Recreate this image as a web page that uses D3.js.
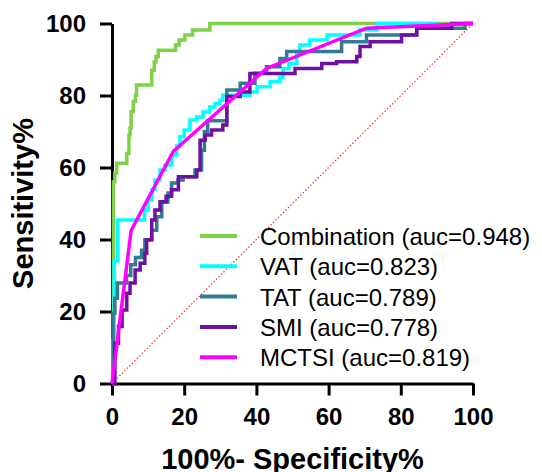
<!DOCTYPE html>
<html>
<head>
<meta charset="utf-8">
<script src="https://cdn.jsdelivr.net/npm/d3@7"></script>
<style>
  body { margin: 0; background: #fff; }
  svg { display: block; font-family: "Liberation Sans", Arial, sans-serif; }
</style>
</head>
<body>
<div id="chart"></div>
<script>
// ROC curves, values (x = 100%-specificity, y = sensitivity)
const seriesNames = ["Combination", "VAT", "TAT", "SMI", "MCTSI"];
const aucValues = ["0.948", "0.823", "0.789", "0.778", "0.819"];
const seriesColors = ["#80d14a", "#00ffff", "#327b93", "#6e11a0", "#ff00ff"];

const combFpr = [0, 0.4, 0.4, 0.8, 0.8, 1.3, 1.3, 4.1, 4.1, 4.7, 4.7, 5, 5, 5.3, 5.3, 5.9, 5.9, 6.5, 6.5, 6.8, 6.8, 11, 11, 11.7, 11.7, 12.2, 12.2, 12.8, 12.8, 17.6, 17.6, 18.6, 18.6, 20.2, 20.2, 22.3, 22.3, 27.1, 27.1, 100];
const combTpr = [0, 0, 56, 56, 58.5, 58.5, 61.2, 61.2, 63.9, 63.9, 69, 69, 71, 71, 75.5, 75.5, 78.3, 78.3, 80.1, 80.1, 82.9, 82.9, 87, 87, 89.4, 89.4, 90.8, 90.8, 92.6, 92.6, 94, 94, 95.4, 95.4, 96.8, 96.8, 98.2, 98.2, 100, 100];

const vatFpr = [0, 0.2, 0.2, 0.6, 0.6, 1.6, 1.6, 9, 9, 10, 10, 11.1, 11.1, 11.9, 11.9, 13.3, 13.3, 14.7, 14.7, 16.6, 16.6, 17.9, 17.9, 18.8, 18.8, 20, 20, 21.6, 21.6, 23.5, 23.5, 25.2, 25.2, 27.1, 27.1, 28.5, 28.5, 29.9, 29.9, 30.7, 30.7, 38.2, 38.2, 40.2, 40.2, 43.8, 43.8, 46.5, 46.5, 47.4, 47.4, 49, 49, 51.2, 51.2, 52, 52, 54.8, 54.8, 59.6, 59.6, 68.7, 68.7, 73.4, 73.4, 90, 90, 100];
const vatTpr = [0, 0, 12, 12, 34, 34, 45.4, 45.4, 48.2, 48.2, 51, 51, 53.8, 53.8, 56.5, 56.5, 59.3, 59.3, 60.7, 60.7, 63.5, 63.5, 66, 66, 68.6, 68.6, 70.4, 70.4, 73.2, 73.2, 74, 74, 75.4, 75.4, 76.8, 76.8, 77.8, 77.8, 78.7, 78.7, 80.1, 80.1, 81, 81, 82.4, 82.4, 83.8, 83.8, 85.1, 85.1, 87.5, 87.5, 88.9, 88.9, 91.8, 91.8, 94, 94, 95.4, 95.4, 96.8, 96.8, 98.2, 98.2, 100, 100];

const tatFpr = [0, 0.3, 0.3, 0.8, 0.8, 1.5, 1.5, 4, 4, 5.2, 5.2, 6.5, 6.5, 8.2, 8.2, 9.1, 9.1, 11, 11, 12.4, 12.4, 13.8, 13.8, 15.5, 15.5, 16.5, 16.5, 18.3, 18.3, 19.7, 19.7, 23, 23, 24.8, 24.8, 25.6, 25.6, 26.5, 26.5, 31.8, 31.8, 35.5, 35.5, 39.6, 39.6, 42.8, 42.8, 46.5, 46.5, 48.4, 48.4, 63.6, 63.6, 70.5, 70.5, 84.4, 84.4, 97.8, 97.8, 100];
const tatTpr = [0, 0, 19.5, 19.5, 23.7, 23.7, 27.9, 27.9, 30, 30, 33, 33, 35, 35, 37, 37, 39.9, 39.9, 42.6, 42.6, 46.3, 46.3, 50.4, 50.4, 52.9, 52.9, 55.7, 55.7, 56.5, 56.5, 57.4, 57.4, 59.3, 59.3, 64.8, 64.8, 70, 70, 73, 73, 81.5, 81.5, 83.4, 83.4, 86.2, 86.2, 88, 88, 90.3, 90.3, 92.2, 92.2, 94.9, 94.9, 96.8, 96.8, 98.7, 98.7, 100, 100];

const smiFpr = [0, 0.8, 0.8, 1.8, 1.8, 2.8, 2.8, 4.1, 4.1, 5, 5, 6.4, 6.4, 7.8, 7.8, 9.1, 9.1, 9.6, 9.6, 11, 11, 11.9, 11.9, 13.3, 13.3, 15, 15, 16.5, 16.5, 18.4, 18.4, 23.5, 23.5, 24.4, 24.4, 25.8, 25.8, 27.6, 27.6, 30.7, 30.7, 31.8, 31.8, 35.5, 35.5, 38.2, 38.2, 50.7, 50.7, 58.1, 58.1, 62.2, 62.2, 67.8, 67.8, 68.7, 68.7, 71.5, 71.5, 80.2, 80.2, 84.4, 84.4, 94.1, 94.1, 100];
const smiTpr = [0, 0, 11.2, 11.2, 15.8, 15.8, 20.4, 20.4, 25.1, 25.1, 27.9, 27.9, 31.5, 31.5, 33.4, 33.4, 36.2, 36.2, 39.9, 39.9, 45.4, 45.4, 48.2, 48.2, 50.5, 50.5, 52, 52, 53.8, 53.8, 57.4, 57.4, 59.3, 59.3, 67.6, 67.6, 69, 69, 70.4, 70.4, 71.8, 71.8, 79.7, 79.7, 81, 81, 86.1, 86.1, 87.5, 87.5, 88.9, 88.9, 89.4, 89.4, 90.8, 90.8, 93.6, 93.6, 94.9, 94.9, 96.8, 96.8, 98.7, 98.7, 100, 100];

const mctsiFpr = [0, 5.3, 17, 42.8, 70.5, 100];
const mctsiTpr = [0, 42.5, 64.5, 87.5, 98.7, 100];

const xTicks = [0, 20, 40, 60, 80, 100];
const yTicks = [0, 20, 40, 60, 80, 100];

const width = 542, height = 472;
const svg = d3.select("#chart").append("svg")
    .attr("width", width)
    .attr("height", height);

const x = d3.scaleLinear().domain([0, 100]).range([112, 473]);
const y = d3.scaleLinear().domain([0, 100]).range([383.5, 23.5]);

// reference diagonal
svg.append("line")
    .attr("x1", x(0)).attr("y1", y(0))
    .attr("x2", x(100)).attr("y2", y(100))
    .attr("stroke", "#ff3b3b")
    .attr("stroke-width", 1.3)
    .attr("stroke-dasharray", "1.5,2");

// axes
const xAxis = svg.append("g")
    .attr("transform", `translate(0,${y(0)})`)
    .call(d3.axisBottom(x).tickValues(xTicks).tickSize(12).tickSizeOuter(0).tickPadding(12));
const yAxis = svg.append("g")
    .attr("transform", `translate(${x(0)},0)`)
    .call(d3.axisLeft(y).tickValues(yTicks).tickSize(12).tickSizeOuter(0).tickPadding(14));

[xAxis, yAxis].forEach(g => {
    g.select(".domain").attr("stroke", "#000").attr("stroke-width", 3);
    g.selectAll(".tick line").attr("stroke", "#000").attr("stroke-width", 3);
    g.selectAll(".tick text")
        .attr("fill", "#000")
        .style("font-size", "24px")
        .style("font-weight", "bold")
        .style("font-family", "'Liberation Sans', Arial, sans-serif");
});

// curves
const curves = [
    [combFpr, combTpr],
    [vatFpr, vatTpr],
    [tatFpr, tatTpr],
    [smiFpr, smiTpr],
    [mctsiFpr, mctsiTpr]
];

const line = d3.line()
    .x(d => x(d[0]))
    .y(d => y(d[1]));

curves.forEach((c, i) => {
    const pts = c[0].map((v, j) => [v, c[1][j]]);
    svg.append("path")
        .datum(pts)
        .attr("d", line)
        .attr("fill", "none")
        .attr("stroke", seriesColors[i])
        .attr("stroke-width", 3.5)
        .attr("stroke-linejoin", "miter");
});

// legend
const legend = svg.append("g");
seriesNames.forEach((name, i) => {
    const ly = 236 + i * 30.3;
    legend.append("line")
        .attr("x1", 200).attr("x2", 237)
        .attr("y1", ly).attr("y2", ly)
        .attr("stroke", seriesColors[i])
        .attr("stroke-width", 4);
    legend.append("text")
        .attr("x", 260)
        .attr("y", ly + 9)
        .style("font-size", "24px")
        .attr("fill", "#000")
        .text(`${name} (auc=${aucValues[i]})`);
});

// axis titles
svg.append("text")
    .attr("x", (x(0) + x(100)) / 2)
    .attr("y", 469)
    .attr("text-anchor", "middle")
    .style("font-size", "29px")
    .style("font-weight", "bold")
    .text("100%- Specificity%");

svg.append("text")
    .attr("transform", `translate(33,${(y(0) + y(100)) / 2}) rotate(-90)`)
    .attr("text-anchor", "middle")
    .style("font-size", "29px")
    .style("font-weight", "bold")
    .text("Sensitivity%");
</script>
</body>
</html>
